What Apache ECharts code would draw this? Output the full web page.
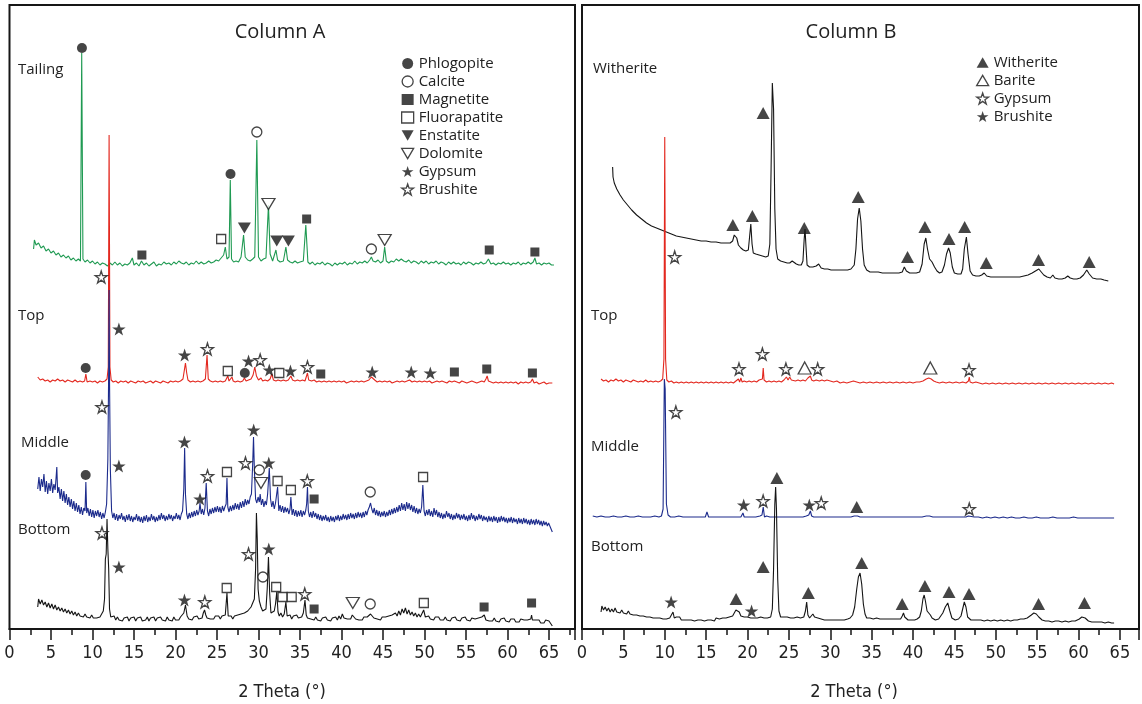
<!DOCTYPE html>
<html><head><meta charset="utf-8">
<script src="https://cdn.jsdelivr.net/npm/echarts@6/dist/echarts.min.js"></script>
<style>html,body{margin:0;padding:0;background:#fff}#c{width:1142px;height:704px}</style>
</head><body><div id="c"></div>
<script>
// ---------- DATA (x = 2 Theta in degrees, y = stacked intensity, arbitrary units) ----------
const tickLabels = [0,5,10,15,20,25,30,35,40,45,50,55,60,65];

// Column A traces
const A_tailing = [[2.9,380],[3.0,389],[3.2,384],[3.5,386],[3.8,381],[4.1,383],[4.4,378],[4.7,380],[5.0,376],[5.3,378],[5.6,374],[5.9,376],[6.2,372],[6.5,374],[6.8,371],[7.1,373],[7.4,369],[7.7,371],[8.0,368],[8.3,370],[8.55,368],[8.7,576],[8.85,370],[9.1,367],[9.4,369],[9.7,366],[10.0,368],[10.3,365],[10.6,367],[10.9,364],[11.2,366],[11.5,365],[11.8,363],[12.1,366],[12.4,364],[12.7,367],[13.0,364],[13.3,366],[13.6,363],[13.9,365],[14.2,364],[14.5,366],[14.8,371],[15.0,364],[15.3,366],[15.6,363],[15.9,368],[16.2,364],[16.5,366],[16.8,363],[17.1,365],[17.4,367],[17.7,363],[18.0,365],[18.3,364],[18.6,367],[18.9,365],[19.2,366],[19.5,364],[19.8,367],[20.1,365],[20.4,368],[20.7,366],[21.0,365],[21.3,367],[21.6,364],[21.9,366],[22.2,365],[22.5,368],[22.8,365],[23.1,367],[23.4,365],[23.7,366],[24.0,368],[24.3,366],[24.6,367],[24.9,369],[25.2,368],[25.5,371],[25.8,374],[26.0,382],[26.2,370],[26.45,372],[26.6,449],[26.75,370],[27.0,367],[27.3,368],[27.6,367],[27.9,372],[28.2,394],[28.4,372],[28.7,369],[29.0,368],[29.3,370],[29.55,372],[29.8,489],[30.0,372],[30.3,368],[30.6,370],[30.9,371],[31.2,424],[31.4,375],[31.7,368],[32.1,379],[32.3,369],[32.6,367],[33.0,368],[33.3,382],[33.5,369],[33.8,367],[34.1,366],[34.4,368],[34.7,366],[35.0,367],[35.4,368],[35.7,404],[35.95,367],[36.2,365],[36.5,367],[36.8,364],[37.1,366],[37.4,365],[37.7,367],[38.0,364],[38.3,366],[38.6,365],[38.9,363],[39.2,366],[39.5,364],[39.8,366],[40.1,365],[40.4,367],[40.7,364],[41.0,366],[41.3,365],[41.6,368],[41.9,365],[42.2,367],[42.5,366],[42.8,368],[43.1,366],[43.4,369],[43.6,372],[43.8,368],[44.1,367],[44.4,369],[44.7,366],[45.0,368],[45.2,382],[45.4,368],[45.7,366],[46.0,368],[46.3,367],[46.6,370],[46.9,368],[47.2,370],[47.5,368],[47.8,367],[48.1,369],[48.4,366],[48.7,368],[49.0,367],[49.3,365],[49.6,368],[49.9,366],[50.2,368],[50.5,365],[50.8,367],[51.1,366],[51.4,368],[51.7,365],[52.0,367],[52.3,366],[52.6,364],[52.9,367],[53.2,365],[53.5,367],[53.8,365],[54.1,366],[54.4,364],[54.7,367],[55.0,365],[55.3,367],[55.6,366],[55.9,364],[56.2,366],[56.5,365],[56.8,367],[57.1,365],[57.4,366],[57.7,370],[58.0,365],[58.3,366],[58.6,364],[58.9,366],[59.2,365],[59.5,367],[59.8,365],[60.1,366],[60.4,364],[60.7,366],[61.0,365],[61.3,367],[61.6,364],[61.9,366],[62.2,365],[62.5,367],[62.8,365],[63.1,367],[63.3,371],[63.5,365],[63.8,366],[64.1,364],[64.4,366],[64.7,365],[65.0,366],[65.3,364],[65.6,364]];

const A_top = [[3.4,252],[3.7,249],[4.0,250],[4.3,248],[4.6,249],[4.9,247],[5.2,249],[5.5,248],[5.8,250],[6.1,248],[6.4,249],[6.7,247],[7.0,249],[7.3,248],[7.6,247],[7.9,249],[8.2,247],[8.5,248],[8.8,247],[9.05,248],[9.2,255],[9.35,247],[9.7,248],[10.0,247],[10.3,248],[10.6,246],[10.9,248],[11.2,247],[11.5,248],[11.75,250],[11.9,262],[12.0,494],[12.1,262],[12.25,249],[12.5,247],[12.8,248],[13.1,246],[13.4,248],[13.7,247],[14.0,248],[14.3,246],[14.6,248],[14.9,247],[15.2,246],[15.5,248],[15.8,247],[16.1,248],[16.4,246],[16.7,247],[17.0,248],[17.3,246],[17.6,248],[17.9,247],[18.2,246],[18.5,248],[18.8,247],[19.1,246],[19.4,248],[19.7,247],[20.0,248],[20.3,247],[20.6,248],[20.9,250],[21.05,258],[21.2,266],[21.35,256],[21.5,249],[21.8,247],[22.1,248],[22.4,247],[22.7,248],[23.0,247],[23.3,248],[23.6,250],[23.8,274],[23.95,250],[24.2,248],[24.5,247],[24.8,248],[25.1,247],[25.4,248],[25.7,247],[26.0,248],[26.15,249],[26.3,253],[26.45,248],[26.65,249],[26.8,252],[26.95,248],[27.2,247],[27.5,248],[27.8,247],[28.1,248],[28.3,251],[28.5,248],[28.8,249],[29.1,250],[29.35,254],[29.55,262],[29.75,253],[30.0,249],[30.3,251],[30.5,248],[30.8,249],[31.1,248],[31.4,250],[31.6,255],[31.8,249],[32.1,248],[32.35,249],[32.5,251],[32.7,248],[33.0,249],[33.3,248],[33.6,249],[33.9,253],[34.1,249],[34.4,248],[34.7,249],[35.0,248],[35.3,249],[35.6,248],[35.8,250],[35.9,256],[36.05,249],[36.4,248],[36.7,249],[37.0,247],[37.3,248],[37.6,247],[37.9,248],[38.2,247],[38.5,248],[38.8,247],[39.1,248],[39.4,247],[39.7,248],[40.0,247],[40.3,248],[40.6,246],[40.9,247],[41.2,248],[41.5,247],[41.8,248],[42.1,247],[42.4,248],[42.7,247],[43.0,248],[43.3,249],[43.6,252],[43.8,251],[44.0,249],[44.3,247],[44.6,248],[44.9,247],[45.2,248],[45.5,247],[45.8,248],[46.1,246],[46.4,247],[46.7,248],[47.0,247],[47.3,248],[47.6,247],[47.9,248],[48.2,249],[48.5,247],[48.8,248],[49.1,247],[49.4,248],[49.7,247],[50.0,248],[50.3,247],[50.6,248],[50.9,246],[51.2,247],[51.5,248],[51.8,247],[52.1,248],[52.4,247],[52.7,246],[53.0,248],[53.3,247],[53.6,248],[53.9,247],[54.2,246],[54.5,248],[54.8,247],[55.1,246],[55.4,247],[55.7,248],[56.0,247],[56.3,246],[56.6,247],[56.9,248],[57.2,247],[57.4,250],[57.55,253],[57.7,248],[58.0,247],[58.3,246],[58.6,247],[58.9,246],[59.2,247],[59.5,246],[59.8,247],[60.1,246],[60.4,247],[60.7,246],[61.0,247],[61.3,245],[61.6,247],[61.9,246],[62.2,247],[62.5,246],[62.8,247],[63.0,250],[63.2,246],[63.5,247],[63.8,245],[64.1,246],[64.4,247],[64.7,245],[65.0,246],[65.4,246]];

const A_middle = [[3.4,140],[3.55,152],[3.7,138],[3.85,150],[4.0,142],[4.15,155],[4.3,137],[4.45,148],[4.6,135],[4.75,146],[4.9,138],[5.05,150],[5.2,136],[5.35,145],[5.5,139],[5.6,150],[5.7,162],[5.8,136],[5.95,142],[6.1,130],[6.25,140],[6.4,128],[6.55,138],[6.7,126],[6.85,135],[7.0,124],[7.15,132],[7.3,122],[7.45,130],[7.6,120],[7.75,128],[7.9,118],[8.05,126],[8.2,117],[8.35,124],[8.5,115],[8.65,122],[8.8,114],[8.95,121],[9.1,118],[9.2,147],[9.3,116],[9.45,121],[9.6,113],[9.75,120],[9.9,112],[10.05,119],[10.2,111],[10.35,118],[10.5,113],[10.65,119],[10.8,112],[10.95,117],[11.1,110],[11.25,116],[11.4,111],[11.55,117],[11.7,125],[11.85,170],[11.95,260],[12.0,339],[12.05,250],[12.15,160],[12.3,118],[12.45,111],[12.6,116],[12.75,109],[12.9,115],[13.05,108],[13.2,114],[13.35,110],[13.5,116],[13.65,109],[13.8,113],[13.95,107],[14.1,114],[14.25,109],[14.4,115],[14.55,108],[14.7,113],[14.85,107],[15.0,112],[15.15,109],[15.3,115],[15.45,108],[15.6,113],[15.75,107],[15.9,112],[16.05,106],[16.2,113],[16.35,108],[16.5,114],[16.65,107],[16.8,112],[16.95,108],[17.1,115],[17.25,109],[17.4,113],[17.55,107],[17.7,112],[17.85,108],[18.0,114],[18.15,109],[18.3,116],[18.45,110],[18.6,114],[18.75,108],[18.9,113],[19.05,109],[19.2,115],[19.35,110],[19.5,114],[19.65,108],[19.8,113],[19.95,110],[20.1,116],[20.25,110],[20.4,114],[20.55,109],[20.7,115],[20.85,118],[21.0,140],[21.1,181],[21.2,135],[21.35,115],[21.5,110],[21.65,116],[21.8,111],[21.95,117],[22.1,112],[22.25,118],[22.4,113],[22.55,119],[22.7,114],[22.85,118],[22.95,126],[23.1,115],[23.25,120],[23.4,114],[23.55,121],[23.7,146],[23.85,118],[24.0,113],[24.15,120],[24.3,115],[24.45,121],[24.6,116],[24.75,122],[24.9,117],[25.05,123],[25.2,117],[25.35,122],[25.5,116],[25.65,123],[25.8,118],[25.95,122],[26.1,125],[26.2,151],[26.3,122],[26.45,117],[26.6,123],[26.75,118],[26.9,124],[27.05,119],[27.2,126],[27.35,120],[27.5,125],[27.65,119],[27.8,127],[27.95,121],[28.1,128],[28.25,122],[28.4,130],[28.55,124],[28.7,129],[28.85,125],[29.0,132],[29.15,135],[29.3,165],[29.4,192],[29.5,160],[29.65,130],[29.8,126],[29.95,132],[30.1,127],[30.2,135],[30.35,124],[30.5,130],[30.65,122],[30.8,128],[30.95,124],[31.1,135],[31.3,161],[31.45,130],[31.6,122],[31.75,128],[31.9,120],[32.05,126],[32.2,124],[32.3,142],[32.45,118],[32.6,124],[32.75,117],[32.9,123],[33.05,116],[33.2,122],[33.35,117],[33.5,121],[33.65,115],[33.8,120],[33.9,132],[34.05,114],[34.2,120],[34.35,113],[34.5,119],[34.65,112],[34.8,118],[34.95,113],[35.1,119],[35.25,112],[35.4,118],[35.55,114],[35.7,119],[35.8,125],[35.9,142],[36.0,118],[36.15,112],[36.3,117],[36.45,111],[36.6,118],[36.75,112],[36.9,116],[37.05,110],[37.2,115],[37.35,109],[37.5,114],[37.65,108],[37.8,113],[37.95,109],[38.1,114],[38.25,108],[38.4,112],[38.55,107],[38.7,113],[38.85,108],[39.0,112],[39.15,107],[39.3,113],[39.45,109],[39.6,114],[39.75,108],[39.9,113],[40.05,109],[40.2,115],[40.35,110],[40.5,114],[40.65,109],[40.8,115],[40.95,110],[41.1,116],[41.25,111],[41.4,115],[41.55,110],[41.7,116],[41.85,111],[42.0,117],[42.15,112],[42.3,116],[42.45,111],[42.6,117],[42.75,112],[42.9,118],[43.05,114],[43.2,119],[43.35,122],[43.5,126],[43.65,120],[43.8,116],[43.95,121],[44.1,114],[44.25,119],[44.4,113],[44.55,118],[44.7,112],[44.85,117],[45.0,113],[45.15,118],[45.3,112],[45.45,117],[45.6,113],[45.75,119],[45.9,114],[46.05,120],[46.2,115],[46.35,121],[46.5,116],[46.65,122],[46.8,117],[46.95,124],[47.1,118],[47.25,126],[47.4,119],[47.55,125],[47.7,118],[47.85,127],[48.0,120],[48.15,126],[48.3,119],[48.45,124],[48.6,117],[48.75,123],[48.9,116],[49.05,121],[49.2,115],[49.35,120],[49.5,116],[49.65,122],[49.8,144],[49.95,118],[50.1,113],[50.25,119],[50.4,114],[50.55,120],[50.7,113],[50.85,118],[51.0,112],[51.15,121],[51.3,114],[51.45,119],[51.6,112],[51.75,117],[51.9,111],[52.05,116],[52.2,110],[52.35,115],[52.5,111],[52.65,118],[52.8,112],[52.95,116],[53.1,110],[53.25,115],[53.4,109],[53.55,114],[53.7,110],[53.85,116],[54.0,111],[54.15,115],[54.3,109],[54.45,114],[54.6,110],[54.75,115],[54.9,109],[55.05,113],[55.2,108],[55.35,114],[55.5,109],[55.65,116],[55.8,110],[55.95,114],[56.1,108],[56.25,113],[56.4,109],[56.55,115],[56.7,110],[56.85,114],[57.0,108],[57.15,113],[57.3,109],[57.45,112],[57.6,107],[57.75,113],[57.9,108],[58.05,112],[58.2,107],[58.35,113],[58.5,108],[58.65,112],[58.8,106],[58.95,112],[59.1,107],[59.25,113],[59.4,108],[59.55,112],[59.7,107],[59.85,111],[60.0,106],[60.15,111],[60.3,107],[60.45,112],[60.6,106],[60.75,111],[60.9,107],[61.05,110],[61.2,105],[61.35,111],[61.5,106],[61.65,110],[61.8,105],[61.95,111],[62.1,106],[62.25,110],[62.4,105],[62.55,109],[62.7,104],[62.85,110],[63.0,105],[63.15,109],[63.3,104],[63.45,110],[63.6,105],[63.75,109],[63.9,104],[64.05,108],[64.2,103],[64.35,108],[64.5,104],[64.65,107],[64.8,103],[64.95,106],[65.1,104],[65.4,97]];

const A_bottom = [[3.4,22],[3.5,30],[3.7,25],[3.9,29],[4.1,24],[4.3,27],[4.5,22],[4.7,26],[4.9,21],[5.1,25],[5.3,20],[5.5,24],[5.7,19],[5.9,22],[6.1,18],[6.3,21],[6.5,17],[6.7,20],[6.9,16],[7.1,19],[7.3,15],[7.5,18],[7.7,14],[7.9,17],[8.1,13],[8.3,16],[8.5,13],[8.7,15],[8.9,12],[9.1,15],[9.3,12],[9.5,14],[9.7,11],[9.9,14],[10.1,11],[10.3,13],[10.5,11],[10.7,13],[10.9,12],[11.1,14],[11.3,18],[11.45,30],[11.55,70],[11.65,75],[11.75,110],[11.85,80],[11.95,60],[12.05,20],[12.2,12],[12.4,10],[12.6,13],[12.8,9],[13.0,12],[13.2,9],[13.4,11],[13.6,8],[13.8,11],[14.0,9],[14.2,12],[14.4,8],[14.6,11],[14.8,9],[15.0,12],[15.2,8],[15.4,11],[15.6,9],[15.8,12],[16.0,8],[16.2,10],[16.4,9],[16.6,12],[16.8,8],[17.0,11],[17.2,9],[17.4,12],[17.6,8],[17.8,11],[18.0,9],[18.2,12],[18.4,9],[18.6,11],[18.8,8],[19.0,12],[19.2,9],[19.4,11],[19.6,8],[19.8,12],[20.0,9],[20.2,11],[20.4,9],[20.6,12],[20.8,11],[21.0,16],[21.2,24],[21.4,13],[21.6,10],[21.8,12],[22.0,9],[22.2,12],[22.4,10],[22.6,13],[22.8,10],[23.0,12],[23.2,11],[23.35,16],[23.5,19],[23.65,14],[23.8,11],[24.0,13],[24.2,10],[24.4,12],[24.6,10],[24.8,13],[25.0,11],[25.2,13],[25.4,10],[25.6,13],[25.8,11],[26.0,14],[26.2,36],[26.35,13],[26.5,11],[26.7,13],[26.9,10],[27.1,13],[27.3,11],[27.5,14],[27.7,12],[27.9,15],[28.1,13],[28.3,16],[28.5,15],[28.7,18],[28.9,17],[29.1,22],[29.3,24],[29.5,30],[29.65,60],[29.75,116],[29.85,90],[29.95,40],[30.1,28],[30.3,22],[30.5,18],[30.7,16],[30.9,20],[31.05,40],[31.2,72],[31.35,35],[31.5,16],[31.7,14],[31.9,18],[32.05,25],[32.2,37],[32.35,17],[32.5,13],[32.7,16],[32.9,12],[33.1,15],[33.3,27],[33.45,13],[33.6,11],[33.8,14],[34.0,10],[34.2,13],[34.4,11],[34.6,14],[34.8,11],[35.0,13],[35.2,12],[35.4,16],[35.6,29],[35.75,14],[35.9,11],[36.1,13],[36.3,10],[36.5,12],[36.7,9],[36.9,12],[37.1,9],[37.3,11],[37.5,8],[37.7,11],[37.9,9],[38.1,12],[38.3,9],[38.5,11],[38.7,8],[38.9,11],[39.1,9],[39.3,12],[39.5,9],[39.7,13],[39.9,10],[40.1,15],[40.3,11],[40.5,13],[40.7,10],[40.9,12],[41.1,10],[41.3,14],[41.4,16],[41.5,12],[41.7,10],[41.9,12],[42.1,9],[42.3,11],[42.5,9],[42.7,12],[42.9,10],[43.1,12],[43.3,11],[43.5,15],[43.7,13],[43.9,11],[44.1,13],[44.3,10],[44.5,12],[44.7,9],[44.9,12],[45.1,10],[45.3,12],[45.5,10],[45.7,13],[45.9,11],[46.1,14],[46.3,12],[46.5,16],[46.7,13],[46.9,18],[47.1,14],[47.3,20],[47.5,16],[47.7,21],[47.9,15],[48.1,19],[48.3,14],[48.5,17],[48.7,13],[48.9,16],[49.1,12],[49.3,15],[49.5,12],[49.7,14],[49.9,19],[50.1,12],[50.3,10],[50.5,13],[50.7,10],[50.9,12],[51.1,9],[51.3,12],[51.5,10],[51.7,12],[51.9,9],[52.1,11],[52.3,9],[52.5,12],[52.7,9],[52.9,11],[53.1,8],[53.3,11],[53.5,9],[53.7,12],[53.9,9],[54.1,11],[54.3,8],[54.5,11],[54.7,9],[54.9,12],[55.1,9],[55.3,11],[55.5,8],[55.7,11],[55.9,9],[56.1,10],[56.3,8],[56.5,11],[56.7,9],[56.9,12],[57.1,10],[57.2,14],[57.4,9],[57.6,11],[57.8,8],[58.0,10],[58.2,8],[58.4,11],[58.6,8],[58.8,10],[59.0,7],[59.2,10],[59.4,8],[59.6,11],[59.8,8],[60.0,10],[60.2,7],[60.4,10],[60.6,8],[60.8,10],[61.0,7],[61.2,9],[61.4,7],[61.6,10],[61.8,8],[62.0,9],[62.2,7],[62.4,9],[62.6,8],[62.8,10],[62.9,14],[63.0,9],[63.2,7],[63.4,9],[63.6,7],[63.8,9],[64.0,6],[64.2,8],[64.4,6],[64.6,9],[64.8,7],[65.0,8],[65.2,6],[65.4,3]];

// Column B traces
const B_witherite = [[3.7,462],[3.75,452],[3.9,446],[4.2,440],[4.6,434],[5.0,429],[5.5,424],[6.0,419],[6.6,414],[7.2,410],[7.8,406],[8.4,403],[9.0,401],[9.6,399],[10.2,397],[10.8,395],[11.4,393],[12.0,392],[12.6,391],[13.2,390],[13.8,389],[14.4,388],[15.0,388],[15.6,387],[16.2,387],[16.8,386],[17.4,386],[17.9,386],[18.2,388],[18.4,394],[18.55,396],[18.7,391],[18.9,384],[19.2,381],[19.5,379],[19.8,378],[20.1,379],[20.25,392],[20.4,405],[20.55,385],[20.7,376],[21.0,375],[21.4,374],[21.8,373],[22.2,372],[22.5,373],[22.7,385],[22.85,460],[23.0,546],[23.15,520],[23.3,420],[23.45,380],[23.65,370],[24.0,368],[24.4,367],[24.8,366],[25.1,366],[25.4,368],[25.6,366],[25.9,365],[26.2,364],[26.5,364],[26.7,368],[26.85,390],[26.95,400],[27.05,385],[27.2,364],[27.5,362],[27.9,362],[28.3,363],[28.6,365],[28.9,361],[29.3,360],[29.7,360],[30.1,359],[30.5,359],[30.9,359],[31.3,359],[31.7,359],[32.1,359],[32.5,360],[32.9,364],[33.1,380],[33.3,410],[33.5,421],[33.7,408],[33.9,380],[34.1,364],[34.4,359],[34.8,357],[35.3,357],[35.8,357],[36.3,356],[36.8,356],[37.3,356],[37.8,356],[38.3,356],[38.7,357],[38.95,362],[39.2,358],[39.6,356],[40.0,356],[40.4,356],[40.8,357],[41.1,365],[41.35,385],[41.55,391],[41.75,380],[42.0,370],[42.3,367],[42.6,362],[42.9,358],[43.2,356],[43.5,357],[43.8,364],[44.05,375],[44.3,381],[44.5,376],[44.75,362],[45.0,356],[45.4,355],[45.8,355],[46.0,360],[46.2,380],[46.45,392],[46.65,375],[46.9,358],[47.2,354],[47.6,353],[48.0,353],[48.3,354],[48.6,356],[48.9,353],[49.4,352],[49.9,352],[50.4,352],[50.9,352],[51.4,352],[51.9,352],[52.4,352],[52.9,352],[53.4,353],[53.9,354],[54.4,356],[54.8,358],[55.2,360],[55.5,357],[55.8,354],[56.2,352],[56.6,351],[56.9,354],[57.15,351],[57.6,350],[58.0,350],[58.4,351],[58.7,353],[59.0,351],[59.4,350],[59.8,350],[60.2,351],[60.6,354],[61.0,359],[61.3,355],[61.7,351],[62.2,350],[62.7,350],[63.1,349],[63.6,348]];

const B_top = [[2.3,250],[2.6,248],[2.9,249],[3.2,247],[3.5,249],[3.8,248],[4.1,250],[4.4,248],[4.7,249],[5.0,247],[5.3,249],[5.6,248],[5.9,247],[6.2,249],[6.5,248],[6.8,247],[7.1,248],[7.4,247],[7.7,249],[8.0,247],[8.3,248],[8.6,247],[8.9,248],[9.2,247],[9.5,248],[9.75,250],[9.9,270],[10.0,492],[10.1,270],[10.25,249],[10.5,247],[10.8,248],[11.1,246],[11.4,247],[11.7,246],[12.0,247],[12.3,246],[12.6,247],[12.9,246],[13.2,247],[13.5,246],[13.8,247],[14.1,246],[14.4,247],[14.7,246],[15.0,247],[15.3,246],[15.6,247],[15.9,246],[16.2,247],[16.5,246],[16.8,247],[17.1,246],[17.4,247],[17.7,246],[18.0,247],[18.3,246],[18.6,248],[18.9,250],[19.05,247],[19.2,251],[19.35,247],[19.6,248],[19.9,247],[20.2,248],[20.5,247],[20.8,248],[21.1,247],[21.4,249],[21.6,248],[21.8,250],[21.9,261],[22.0,249],[22.3,247],[22.6,248],[22.9,247],[23.2,248],[23.5,247],[23.8,248],[24.1,247],[24.4,249],[24.7,252],[24.9,249],[25.1,252],[25.3,249],[25.5,250],[25.8,248],[26.1,249],[26.4,248],[26.7,249],[27.0,248],[27.3,251],[27.45,249],[27.6,253],[27.75,249],[28.0,248],[28.3,249],[28.5,250],[28.7,248],[29.0,249],[29.3,248],[29.6,249],[29.8,250],[30.0,248],[30.4,247],[30.8,248],[31.2,246],[31.6,247],[32.0,246],[32.4,247],[32.8,248],[33.2,247],[33.6,246],[34.0,247],[34.4,246],[34.8,247],[35.2,246],[35.6,247],[36.0,246],[36.4,247],[36.8,246],[37.2,247],[37.6,246],[38.0,247],[38.4,246],[38.8,247],[39.2,246],[39.6,247],[40.0,246],[40.4,247],[40.8,247],[41.2,248],[41.6,250],[41.9,251],[42.2,250],[42.5,248],[42.8,247],[43.2,246],[43.6,247],[44.0,246],[44.4,247],[44.8,246],[45.2,247],[45.6,246],[46.0,247],[46.4,246],[46.7,248],[46.8,252],[46.9,247],[47.2,246],[47.6,247],[48.0,246],[48.4,245],[48.8,246],[49.2,245],[49.6,246],[50.0,245],[50.4,246],[50.8,245],[51.2,246],[51.6,245],[52.0,246],[52.4,245],[52.8,246],[53.2,245],[53.6,246],[54.0,245],[54.4,246],[54.8,245],[55.2,246],[55.6,245],[56.0,246],[56.4,245],[56.8,246],[57.2,245],[57.6,246],[58.0,245],[58.4,246],[58.8,245],[59.2,246],[59.6,245],[60.0,246],[60.4,245],[60.8,246],[61.2,245],[61.6,246],[62.0,245],[62.4,246],[62.8,245],[63.2,246],[63.6,245],[64.0,246],[64.3,245]];

const B_middle = [[1.3,113],[1.8,112],[2.3,113],[2.8,112],[3.3,112],[3.8,113],[4.3,112],[4.8,112],[5.3,113],[5.8,112],[6.3,112],[6.8,113],[7.3,112],[7.8,112],[8.3,112],[8.8,113],[9.3,112],[9.6,113],[9.8,120],[9.95,250],[10.05,240],[10.2,125],[10.4,114],[10.7,112],[11.2,112],[11.7,113],[12.2,112],[12.7,112],[13.2,112],[13.6,112],[13.8,114],[13.95,112],[14.5,112],[14.9,112],[15.1,117],[15.3,112],[15.8,112],[16.3,112],[16.8,112],[17.3,112],[17.8,112],[18.3,112],[18.8,112],[19.2,112],[19.45,116],[19.6,112],[20.0,112],[20.5,112],[21.0,112],[21.5,113],[21.75,114],[21.9,122],[22.05,112],[22.3,113],[22.5,115],[22.7,112],[23.2,112],[23.7,112],[24.2,112],[24.7,112],[25.2,112],[25.7,112],[26.2,112],[26.7,112],[27.1,113],[27.4,114],[27.6,118],[27.75,113],[28.0,112],[28.5,112],[29.0,112],[29.5,112],[30.0,112],[30.5,112],[31.0,112],[31.5,112],[32.0,112],[32.5,112],[32.9,113],[33.1,114],[33.3,113],[33.6,112],[34.1,112],[34.6,112],[35.1,112],[35.6,112],[36.1,112],[36.6,112],[37.1,112],[37.6,112],[38.1,112],[38.6,112],[39.1,112],[39.6,112],[40.1,112],[40.6,112],[41.1,112],[41.6,113],[42.0,113],[42.4,112],[42.9,112],[43.4,112],[43.9,112],[44.4,112],[44.9,112],[45.4,112],[45.9,112],[46.4,112],[46.7,113],[46.8,115],[46.9,112],[47.4,112],[47.9,112],[48.4,111],[48.9,112],[49.4,111],[49.9,112],[50.4,111],[50.9,112],[51.4,111],[51.9,112],[52.4,111],[52.9,111],[53.4,112],[53.9,111],[54.4,111],[54.9,112],[55.4,111],[55.9,111],[56.4,111],[56.9,112],[57.4,111],[57.9,111],[58.4,111],[58.9,111],[59.4,112],[59.9,111],[60.4,111],[60.9,111],[61.4,111],[61.9,111],[62.4,111],[62.9,111],[63.4,111],[63.9,111],[64.3,111]];

const B_bottom = [[2.3,17],[2.4,23],[2.6,19],[2.8,22],[3.0,18],[3.2,21],[3.4,17],[3.6,20],[3.8,17],[4.0,21],[4.2,17],[4.4,19],[4.6,16],[4.8,19],[5.0,16],[5.2,18],[5.4,15],[5.6,18],[5.8,15],[6.0,17],[6.2,14],[6.4,16],[6.6,14],[6.8,16],[7.0,13],[7.2,15],[7.4,13],[7.6,15],[7.8,12],[8.0,14],[8.2,12],[8.4,14],[8.6,11],[8.8,13],[9.0,11],[9.2,13],[9.4,11],[9.6,12],[9.8,10],[10.0,12],[10.2,10],[10.4,12],[10.6,11],[10.8,13],[11.0,17],[11.15,11],[11.4,12],[11.6,10],[11.8,12],[12.0,9],[12.2,11],[12.4,9],[12.6,11],[12.8,9],[13.0,11],[13.2,9],[13.4,11],[13.6,8],[13.8,10],[14.0,9],[14.2,11],[14.4,9],[14.6,11],[14.8,8],[15.0,10],[15.2,9],[15.4,11],[15.6,9],[15.8,10],[16.0,8],[16.2,11],[16.4,9],[16.6,10],[16.8,9],[17.0,11],[17.2,9],[17.4,11],[17.6,10],[17.8,12],[18.0,11],[18.2,13],[18.4,16],[18.6,19],[18.8,21],[19.0,17],[19.2,13],[19.4,11],[19.6,12],[19.8,10],[20.0,12],[20.2,10],[20.4,11],[20.6,9],[20.8,11],[21.0,9],[21.2,11],[21.4,10],[21.6,12],[21.8,10],[22.0,11],[22.2,9],[22.4,11],[22.6,10],[22.8,12],[23.0,20],[23.15,60],[23.3,125],[23.4,142],[23.5,120],[23.65,50],[23.8,18],[24.0,12],[24.2,10],[24.4,12],[24.6,10],[24.8,12],[25.0,10],[25.2,11],[25.4,9],[25.6,11],[25.8,10],[26.0,12],[26.2,10],[26.4,11],[26.6,10],[26.8,12],[27.0,18],[27.15,27],[27.3,14],[27.5,11],[27.7,13],[27.9,15],[28.1,12],[28.3,13],[28.5,11],[28.7,12],[28.9,10],[29.1,11],[29.3,9],[29.5,11],[29.7,9],[29.9,10],[30.1,9],[30.3,11],[30.5,9],[30.7,10],[30.9,9],[31.1,11],[31.3,9],[31.5,10],[31.7,9],[31.9,11],[32.1,10],[32.4,11],[32.7,14],[32.95,22],[33.2,40],[33.4,52],[33.6,56],[33.8,45],[34.0,25],[34.2,15],[34.4,11],[34.6,10],[34.8,11],[35.0,9],[35.2,10],[35.4,9],[35.6,11],[35.8,9],[36.0,10],[36.2,8],[36.4,10],[36.6,9],[36.8,10],[37.0,8],[37.2,10],[37.4,9],[37.6,10],[37.8,8],[38.0,10],[38.2,9],[38.5,10],[38.7,13],[38.85,16],[39.0,12],[39.2,10],[39.4,9],[39.6,11],[39.8,9],[40.0,10],[40.2,9],[40.5,10],[40.8,12],[41.0,18],[41.2,30],[41.35,34],[41.5,28],[41.7,18],[41.9,16],[42.1,14],[42.3,11],[42.5,10],[42.7,9],[42.9,11],[43.1,10],[43.3,12],[43.6,16],[43.9,22],[44.2,26],[44.45,18],[44.7,11],[44.9,10],[45.1,9],[45.3,11],[45.5,10],[45.8,13],[46.0,20],[46.2,27],[46.4,22],[46.6,12],[46.8,10],[47.0,9],[47.2,11],[47.4,9],[47.6,10],[47.8,9],[48.0,11],[48.2,9],[48.4,10],[48.6,8],[48.8,10],[49.0,9],[49.2,10],[49.4,8],[49.6,10],[49.8,9],[50.0,10],[50.2,8],[50.4,10],[50.6,9],[50.8,10],[51.0,8],[51.2,10],[51.4,9],[51.6,10],[51.8,8],[52.0,10],[52.2,9],[52.4,10],[52.6,9],[52.8,11],[53.0,10],[53.2,11],[53.4,10],[53.6,12],[53.8,11],[54.0,13],[54.3,14],[54.6,16],[54.9,15],[55.2,12],[55.4,10],[55.6,9],[55.8,10],[56.0,8],[56.2,9],[56.4,8],[56.6,9],[56.8,7],[57.0,9],[57.2,8],[57.4,10],[57.6,8],[57.8,9],[58.0,7],[58.2,9],[58.4,8],[58.6,9],[58.8,7],[59.0,9],[59.2,8],[59.4,9],[59.6,8],[59.8,9],[60.1,10],[60.4,12],[60.6,14],[60.8,11],[61.0,9],[61.2,8],[61.4,9],[61.6,7],[61.8,8],[62.0,7],[62.2,9],[62.4,7],[62.6,8],[62.8,7],[63.0,8],[63.2,6],[63.4,8],[63.6,7],[63.8,8],[64.0,6],[64.3,6]];

// Phase markers, Column A
const A_phlogopite = [[8.73,581],[26.63,455],[9.18,261],[28.35,256],[9.18,154]];
const A_calcite = [[29.8,497],[43.6,380],[30.1,159],[43.46,137],[30.53,52],[43.46,25]];
const A_magnetite = [[15.95,374],[35.8,410],[57.8,379],[63.3,377],[37.5,255],[53.6,257],[57.5,260],[63.0,256],[36.7,130],[36.7,20],[57.18,22],[62.9,26]];
const A_fluorapatite = [[25.5,390],[26.3,258],[32.5,256],[26.2,157],[32.3,148],[33.9,139],[49.83,152],[26.17,41],[32.13,42],[32.9,32],[34.0,32],[49.92,26]];
const A_enstatite = [[28.3,401],[32.2,388],[33.6,388]];
const A_dolomite = [[31.2,425],[45.2,389],[30.3,146],[41.36,26]];
const A_gypsum = [[13.18,300],[21.1,274],[28.8,268],[31.3,259],[33.85,258],[43.7,257],[48.4,257],[50.7,256],[13.18,163],[21.08,187],[22.95,130],[29.42,199],[31.24,166],[13.18,62],[21.08,29],[31.24,80]];
const A_brushite = [[11.05,352],[23.85,280],[30.2,269],[35.9,262],[11.14,222],[23.86,153],[28.43,166],[35.88,148],[11.14,96],[23.53,27],[28.8,75],[35.57,35]];

// Phase markers, Column B
const B_witheriteMk = [[18.23,404],[20.59,413],[21.89,516],[26.86,401],[33.38,432],[39.34,372],[41.44,402],[44.35,390],[46.24,402],[48.85,366],[55.17,369],[61.29,367],[33.2,122],[18.62,30],[21.89,62],[23.55,151],[27.35,36],[33.8,66],[38.69,25],[41.44,43],[44.35,37],[46.77,35],[55.17,25],[60.72,26]];
const B_barite = [[26.91,261],[42.09,261]];
const B_gypsum = [[11.2,372],[18.97,260],[21.8,275],[24.64,260],[28.48,260],[46.77,259],[11.34,217],[21.89,128],[28.91,126],[46.8,120]];
const B_brushite = [[19.54,124],[27.47,124],[10.77,27],[20.49,18]];

const sampleLabelsA = ['Tailing','Top','Middle','Bottom'];
const sampleLabelsB = ['Witherite','Top','Middle','Bottom'];
const legendA = ['Phlogopite','Calcite','Magnetite','Fluorapatite','Enstatite','Dolomite','Gypsum','Brushite'];
const legendB = ['Witherite','Barite','Gypsum','Brushite'];

// ---------- STYLE ----------
const STAR = 'path://M50,0 L61.8,35.1 L98.9,35.1 L68.9,56.8 L80.3,91.9 L50,70.2 L19.7,91.9 L31.1,56.8 L1.1,35.1 L38.2,35.1 Z';
const TRI_DOWN = 'path://M0,0 L100,0 L50,86 Z';
const TRI_UP = 'path://M50,0 L100,86 L0,86 Z';
const INK = '#161616';
const filled = {color: INK};
const open = {color: '#fff', borderColor: INK, borderWidth: 1.3};
const UI = '"Open Sans","Noto Sans",sans-serif';
const NARROW = '"Liberation Sans Narrow","DejaVu Sans Condensed","Liberation Sans",sans-serif';

// symbol spec per phase name
const SYM = {
  'Phlogopite': ['circle', 10, filled], 'Calcite': ['circle', 10, open],
  'Magnetite': ['rect', 9, filled], 'Fluorapatite': ['rect', 9, open],
  'Enstatite': [TRI_DOWN, [13, 11], filled], 'Dolomite': [TRI_DOWN, [13, 11], open],
  'Gypsum': [STAR, [13.5, 13], filled], 'Brushite': [STAR, [12, 12], open],
  'B:Witherite': [TRI_UP, [13, 12], filled], 'B:Barite': [TRI_UP, [13, 12], open],
  'B:Gypsum': [STAR, [12, 12], open], 'B:Brushite': [STAR, [13.5, 13], filled]
};

function line(name, data, color, gi) {
  return {name, type: 'line', data, xAxisIndex: gi, yAxisIndex: gi, showSymbol: false, symbol: 'none',
    lineStyle: {color, width: 1.1}, z: 2, silent: true};
}
function mk(name, data, gi) {
  const s = SYM[name];
  return {name, type: 'scatter', data, xAxisIndex: gi, yAxisIndex: gi, symbol: s[0], symbolSize: s[1],
    itemStyle: s[2], z: 5, silent: true};
}
function legendItem(name) {
  const s = SYM[name];
  return {name, icon: s[0], itemStyle: s[2]};
}
function xAx(gi, max) {
  return {type: 'value', gridIndex: gi, min: 0, max, interval: 5, position: 'bottom',
    axisLine: {show: true, onZero: false, lineStyle: {color: INK, width: 2}},
    axisTick: {show: true, inside: false, length: 11, lineStyle: {color: INK, width: 1.5}},
    minorTick: {show: true, splitNumber: 2, length: 6, lineStyle: {color: INK, width: 1.5}},
    splitLine: {show: false}, minorSplitLine: {show: false},
    axisLabel: {margin: 15, color: '#222', fontSize: 18, fontFamily: NARROW,
      formatter: v => (tickLabels.indexOf(v) >= 0 ? String(v) : '')}};
}
function txt(x, y, text, size, align, font) {
  return {type: 'text', x, y, silent: true,
    style: {text, fill: '#222', font: size + 'px ' + (font || UI), align: align || 'left', verticalAlign: 'middle'}};
}
const legendBase = {orient: 'vertical', padding: 0, itemWidth: 12, itemHeight: 11, itemGap: 3,
  selectedMode: false, textStyle: {fontSize: 15, lineHeight: 15, color: '#222', fontFamily: UI}};

const chart = echarts.init(document.getElementById('c'), null, {renderer: 'canvas'});
chart.setOption({
  animation: false,
  backgroundColor: '#fff',
  grid: [
    {left: 9.5, top: 5, width: 565.5, height: 624, show: true, borderColor: INK, borderWidth: 2, backgroundColor: 'transparent'},
    {left: 582, top: 5, width: 558, height: 624, show: true, borderColor: INK, borderWidth: 2, backgroundColor: 'transparent'}
  ],
  xAxis: [xAx(0, 565.5 / 8.3), xAx(1, 558 / 8.29)],
  yAxis: [
    {type: 'value', gridIndex: 0, min: 0, max: 624, show: false},
    {type: 'value', gridIndex: 1, min: 0, max: 624, show: false}
  ],
  legend: [
    Object.assign({}, legendBase, {data: legendA.map(legendItem), left: 401, top: 56}),
    Object.assign({}, legendBase, {data: legendB.map(n => legendItem('B:' + n)), left: 976, top: 55,
      formatter: n => n.slice(2)})
  ],
  series: [
    line('A tailing', A_tailing, '#1f9a52', 0),
    line('A top', A_top, '#e3281f', 0),
    line('A middle', A_middle, '#1c2b8c', 0),
    line('A bottom', A_bottom, '#151515', 0),
    line('B witherite', B_witherite, '#151515', 1),
    line('B top', B_top, '#e3281f', 1),
    line('B middle', B_middle, '#1c2b8c', 1),
    line('B bottom', B_bottom, '#151515', 1),
    mk('Phlogopite', A_phlogopite, 0),
    mk('Calcite', A_calcite, 0),
    mk('Magnetite', A_magnetite, 0),
    mk('Fluorapatite', A_fluorapatite, 0),
    mk('Enstatite', A_enstatite, 0),
    mk('Dolomite', A_dolomite, 0),
    mk('Gypsum', A_gypsum, 0),
    mk('Brushite', A_brushite, 0),
    mk('B:Witherite', B_witheriteMk, 1),
    mk('B:Barite', B_barite, 1),
    mk('B:Gypsum', B_gypsum, 1),
    mk('B:Brushite', B_brushite, 1)
  ],
  graphic: [
    txt(280, 32, 'Column A', 20, 'center'),
    txt(851, 32, 'Column B', 20, 'center'),
    txt(18, 70, sampleLabelsA[0], 15),
    txt(18, 316, sampleLabelsA[1], 15),
    txt(21, 443, sampleLabelsA[2], 15),
    txt(18, 530, sampleLabelsA[3], 15),
    txt(593, 69, sampleLabelsB[0], 15),
    txt(591, 316, sampleLabelsB[1], 15),
    txt(591, 447, sampleLabelsB[2], 15),
    txt(591, 547, sampleLabelsB[3], 15),
    txt(282, 692, '2 Theta (°)', 18, 'center', NARROW),
    txt(854, 692, '2 Theta (°)', 18, 'center', NARROW)
  ]
});
</script></body></html>
